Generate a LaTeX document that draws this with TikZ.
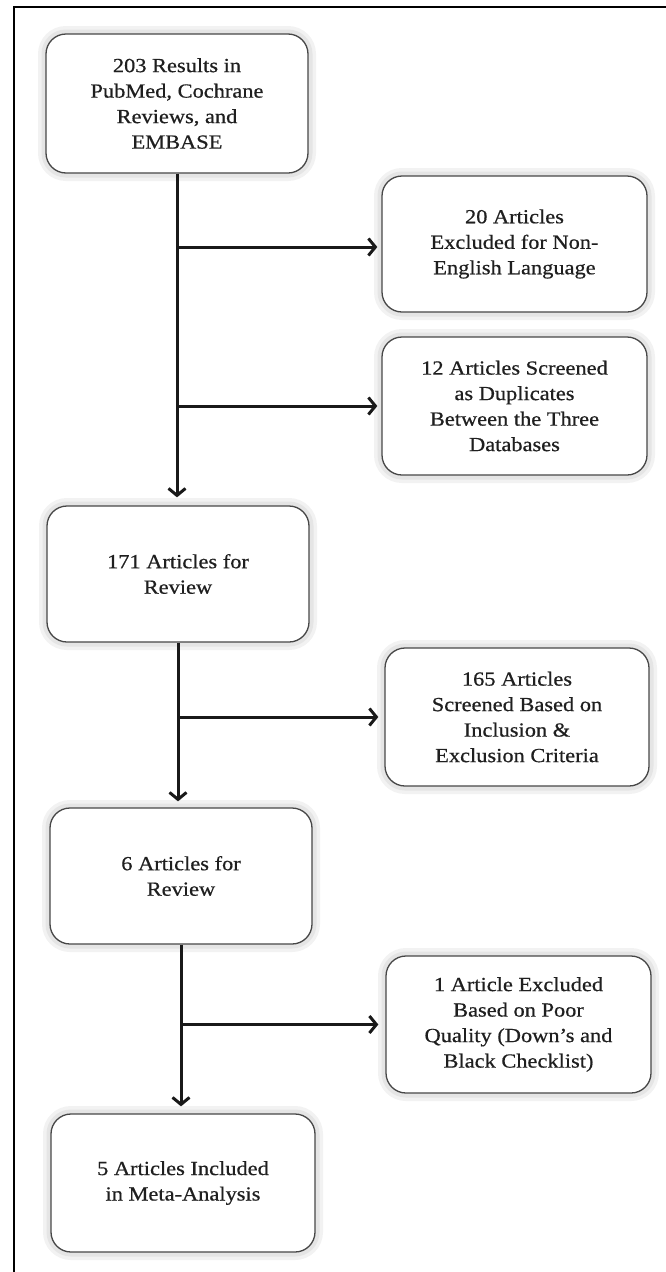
\documentclass[tikz,border=0pt]{standalone}
\usepackage{fontspec}
\setmainfont{Liberation Serif}[FakeStretch=1.12,FakeBold=0.6]
\usetikzlibrary{arrows.meta}
\begin{document}
\begin{tikzpicture}[x=1pt,y=-1pt,
  box/.style={draw=black!72, line width=1.3pt, fill=white, rounded corners=20pt,
    align=center, font=\fontsize{20}{25.5}\selectfont, text=black!88, inner sep=0pt,
    minimum width=264pt, minimum height=137pt,
    preaction={draw=black!5, line width=16pt},
    preaction={draw=black!10, line width=9pt}},
  arr/.style={line width=3pt, draw=black!90, -{Straight Barb[length=7pt,width=17pt]}},
  frame/.style={line width=2.5pt, draw=black}]
\useasboundingbox (0,0) rectangle (665,1272);
\draw[frame] (680,7) -- (14,7) -- (14,1290);

\node[box, minimum width=262pt, minimum height=139pt] (b1) at (177,103.5) {203 Results in\\PubMed, Cochrane\\Reviews, and\\EMBASE};
\node[box, minimum width=265pt, minimum height=136pt] (b2) at (514.5,244) {20 Articles\\Excluded for Non-\\English Language};
\node[box, minimum width=265pt, minimum height=138pt] (b3) at (514.5,406) {12 Articles Screened\\as Duplicates\\Between the Three\\Databases};
\node[box, minimum width=262pt, minimum height=136pt] (b4) at (178,574) {171 Articles for\\Review};
\node[box, minimum width=264pt, minimum height=138pt] (b5) at (517,717) {165 Articles\\Screened Based on\\Inclusion \&\\Exclusion Criteria};
\node[box, minimum width=262pt, minimum height=136pt] (b6) at (181,876) {6 Articles for\\Review};
\node[box, minimum width=265pt, minimum height=137pt] (b7) at (518.5,1024.5) {1 Article Excluded\\Based on Poor\\Quality (Down’s and\\Black Checklist)};
\node[box, minimum width=264pt, minimum height=138pt] (b8) at (183,1183) {5 Articles Included\\in Meta-Analysis};

\draw[arr, shorten >=8pt] (b1.south) -- (b1.south |- b4.north);
\draw[arr, shorten >=4pt] ([yshift=-3pt]b1.south |- b2.west) -- ([yshift=-3pt]b2.west);
\draw[arr, shorten >=4pt] (b1.south |- b3.west) -- (b3.west);

\draw[arr, shorten >=6pt] (b4.south) -- (b4.south |- b6.north);
\draw[arr, shorten >=6pt] (b4.south |- b5.west) -- (b5.west);

\draw[arr, shorten >=7pt] (b6.south) -- (b6.south |- b8.north);
\draw[arr, shorten >=7pt] (b6.south |- b7.west) -- (b7.west);
\end{tikzpicture}
\end{document}
